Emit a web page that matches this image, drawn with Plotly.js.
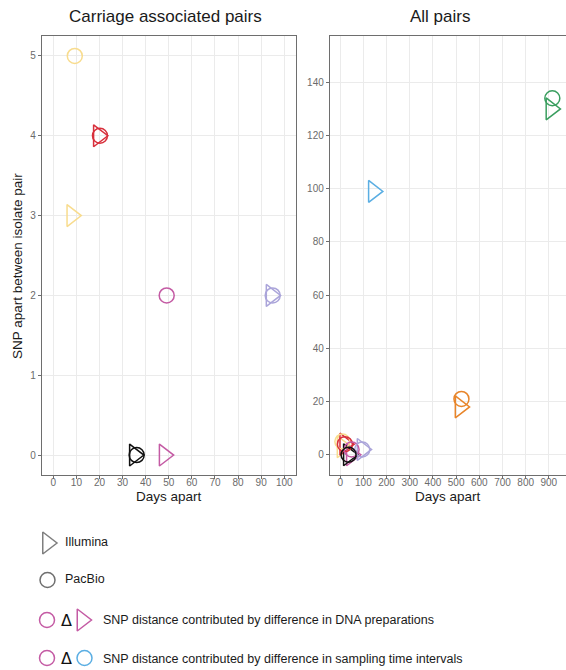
<!DOCTYPE html>
<html>
<head>
<meta charset="utf-8">
<script src="https://cdn.plot.ly/plotly-3.0.1.min.js"></script>
<style>
html,body{margin:0;padding:0;background:#fff;}
#chart{width:566px;height:670px;}
</style>
</head>
<body>
<div id="chart"></div>
<script>
// ---- Data ----
var carriageColors = ['#F8DC8E', '#D8303C', '#C45BA4', '#ABA5DA', '#111111'];
var carriageIlluminaDays = [8, 19.5, 48, 94.3, 35.1];
var carriageIlluminaSNP  = [3, 4, 0, 2, 0];
var carriagePacbioDays   = [9.3, 20.2, 49.1, 95, 36.1];
var carriagePacbioSNP    = [5, 4, 2, 2, 0];

var otherColors = ['#5AAEE3', '#E8852A', '#3A9E5F'];
var otherIlluminaDays = [143, 517, 909];
var otherIlluminaSNP  = [99, 18, 130];
var otherPacbioDays   = [null, 523, 915];
var otherPacbioSNP    = [null, 21, 134];

var leftXTicks = [0,10,20,30,40,50,60,70,80,90,100];
var leftYTicks = [0,1,2,3,4,5];
var rightXTicks = [0,100,200,300,400,500,600,700,800,900];
var rightYTicks = [0,20,40,60,80,100,120,140];

var legendLabels = ['Illumina', 'PacBio',
  'SNP distance contributed by difference in DNA preparations',
  'SNP distance contributed by difference in sampling time intervals'];

// ---- Layout helpers ----
var W = 566, H = 670;
var plotTop = 36, plotBottom = 475;
var leftL = 42, leftR = 296, rightL = 330;
function px(x){ return x / W; }
function py(y){ return 1 - y / H; }

var triSize = 19, circSize = 15, lw = 1.5;

function mk(symbol, size, colors){
  return {symbol:symbol, size:size, color:colors, line:{width:lw, color:colors}};
}

var traces = [];
// left panel
traces.push({x: carriageIlluminaDays, y: carriageIlluminaSNP, xaxis:'x', yaxis:'y', mode:'markers', type:'scatter',
  marker: mk('triangle-right-open', triSize, carriageColors), hoverinfo:'x+y'});
traces.push({x: carriagePacbioDays, y: carriagePacbioSNP, xaxis:'x', yaxis:'y', mode:'markers', type:'scatter',
  marker: mk('circle-open', circSize, carriageColors), hoverinfo:'x+y'});
// right panel: carriage pairs + other pairs
traces.push({x: carriageIlluminaDays.concat(otherIlluminaDays), y: carriageIlluminaSNP.concat(otherIlluminaSNP),
  xaxis:'x2', yaxis:'y2', mode:'markers', type:'scatter',
  marker: mk('triangle-right-open', triSize, carriageColors.concat(otherColors)), hoverinfo:'x+y'});
traces.push({x: carriagePacbioDays.concat(otherPacbioDays), y: carriagePacbioSNP.concat(otherPacbioSNP),
  xaxis:'x2', yaxis:'y2', mode:'markers', type:'scatter',
  marker: mk('circle-open', circSize, carriageColors.concat(otherColors)), hoverinfo:'x+y'});

// legend symbols on a hidden pixel-like axis
var legRowY = [543, 580, 620, 658];
traces.push({x:[47.5], y:[legRowY[0]], xaxis:'x3', yaxis:'y3', mode:'markers', type:'scatter',
  marker: mk('triangle-right-open', triSize, '#7f7f7f'), hoverinfo:'skip'});
traces.push({x:[47.5], y:[legRowY[1]], xaxis:'x3', yaxis:'y3', mode:'markers', type:'scatter',
  marker: mk('circle-open', circSize, '#6f6f6f'), hoverinfo:'skip'});
traces.push({x:[47], y:[legRowY[2]], xaxis:'x3', yaxis:'y3', mode:'markers', type:'scatter',
  marker: mk('circle-open', circSize, '#C45BA4'), hoverinfo:'skip'});
traces.push({x:[82], y:[legRowY[2]], xaxis:'x3', yaxis:'y3', mode:'markers', type:'scatter',
  marker: mk('triangle-right-open', triSize, '#C45BA4'), hoverinfo:'skip'});
traces.push({x:[47, 84.5], y:[legRowY[3], legRowY[3]], xaxis:'x3', yaxis:'y3', mode:'markers', type:'scatter',
  marker: mk('circle-open', circSize, ['#C45BA4','#5AAEE3']), hoverinfo:'skip'});

var tickFont = {family:'Liberation Sans, Arial, sans-serif', size:10, color:'#6b6b6b'};
function axisBase(){
  return {showgrid:true, gridcolor:'#EBEBEB', gridwidth:1, zeroline:false,
    showline:true, linecolor:'#6e6e6e', linewidth:1.2, mirror:true,
    ticks:'outside', ticklen:3, tickcolor:'#6e6e6e', tickwidth:1,
    tickfont:tickFont, fixedrange:true};
}
var xa = axisBase(); xa.domain=[px(leftL), px(leftR)]; xa.range=[-4.9, 105.1]; xa.tickvals=leftXTicks; xa.anchor='y'; xa.ticklabelstandoff=-5;
var ya = axisBase(); ya.domain=[py(plotBottom), py(plotTop)]; ya.range=[-0.25, 5.25]; ya.tickvals=leftYTicks; ya.anchor='x';
var xa2 = axisBase(); xa2.domain=[px(rightL), 1]; xa2.range=[-44, 974]; xa2.tickvals=rightXTicks; xa2.anchor='y2'; xa2.ticklabelstandoff=-5;
var ya2 = axisBase(); ya2.domain=[py(plotBottom), py(plotTop)]; ya2.range=[-7.6, 157.4]; ya2.tickvals=rightYTicks; ya2.anchor='x2';

var fam = 'Liberation Sans, Arial, sans-serif';
function ann(text, x, y, size, extra){
  var a = {text:text, x:px(x), y:py(y), xref:'paper', yref:'paper', showarrow:false,
    font:{family:fam, color:'#1a1a1a', size:size}, xanchor:'center', yanchor:'middle'};
  for (var k in extra) a[k] = extra[k];
  return a;
}
var deltaFont = {family:'DejaVu Sans, sans-serif', size:16, color:'#111'};
var annotations = [
  ann('Carriage associated pairs', 165, 17, 17),
  ann('All pairs', 440, 17, 17),
  ann('Days apart', 169, 496, 13.5),
  ann('Days apart', 448, 496, 13.5),
  ann('SNP apart between isolate pair', 17, 266, 13.5, {textangle:-90}),
  ann(legendLabels[0], 63, 542, 12.5, {xanchor:'left'}),
  ann(legendLabels[1], 63, 579, 12.5, {xanchor:'left'}),
  ann(legendLabels[2], 101, 620, 12.5, {xanchor:'left'}),
  ann(legendLabels[3], 101, 659, 12.5, {xanchor:'left'}),
  ann('Δ', 66, 620, 16, {font:deltaFont}),
  ann('Δ', 66, 658, 16, {font:deltaFont})
];

var layout = {
  width: W, height: H,
  margin:{l:0, r:0, t:0, b:0},
  paper_bgcolor:'#ffffff', plot_bgcolor:'#ffffff',
  showlegend:false,
  xaxis: xa, yaxis: ya, xaxis2: xa2, yaxis2: ya2,
  xaxis3:{domain:[0,1], range:[0, W], visible:false, anchor:'y3', fixedrange:true},
  yaxis3:{domain:[0, py(502)], range:[H, 502], visible:false, anchor:'x3', fixedrange:true},
  annotations: annotations
};

Plotly.newPlot('chart', traces, layout, {displayModeBar:false, staticPlot:true});
</script>
</body>
</html>
